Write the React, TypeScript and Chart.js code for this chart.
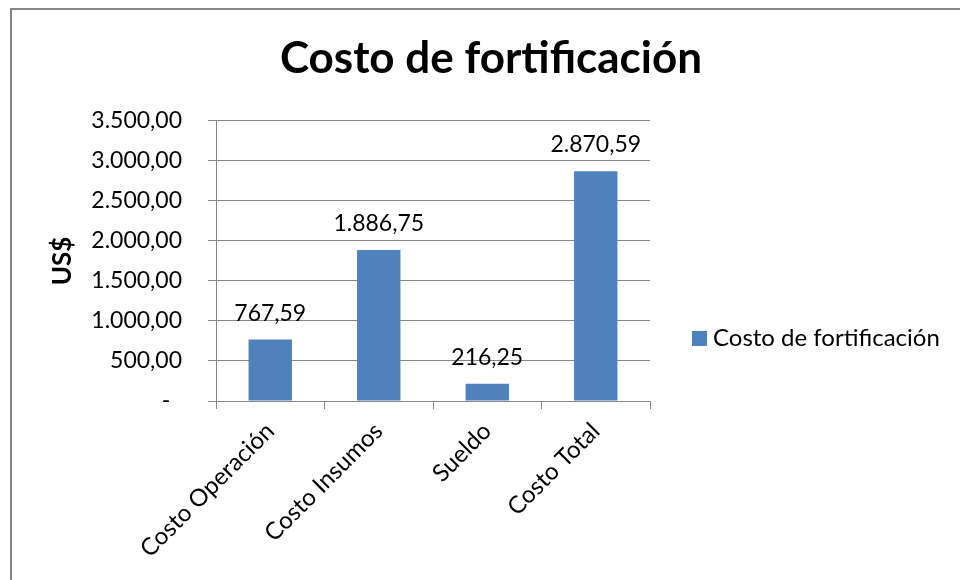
import React, { useEffect, useRef } from 'react';
import { Chart, registerables } from 'chart.js';

Chart.register(...registerables);

const categories = ['Costo Operación', 'Costo Insumos', 'Sueldo', 'Costo Total'];
const values = [767.59, 1886.75, 216.25, 2870.59];
const seriesName = 'Costo de fortificación';
const chartTitle = 'Costo de fortificación';
const yAxisTitle = 'US$';
const yMin = 0;
const yMax = 3500;
const yStep = 500;

const FONT = 'Lato';
const BAR = '#4F81BD';
const LINE = '#868686';

function fmt(v: number): string {
  const [i, d] = Math.abs(v).toFixed(2).split('.');
  const g = i.replace(/\B(?=(\d{3})+(?!\d))/g, '.');
  return (v < 0 ? '-' : '') + g + ',' + d;
}

const framePlugin = {
  id: 'frame',
  beforeDraw(chart: any) {
    const { ctx, width, height } = chart;
    ctx.save();
    ctx.fillStyle = '#ffffff';
    ctx.fillRect(0, 0, width, height);
    ctx.strokeStyle = LINE;
    ctx.lineWidth = 2;
    ctx.strokeRect(11, 9, width + 50, height + 100);
    ctx.restore();
  },
};

const dataLabelPlugin = {
  id: 'dataLabels',
  afterDatasetsDraw(chart: any) {
    const { ctx } = chart;
    ctx.save();
    ctx.font = `23px ${FONT}`;
    ctx.fillStyle = '#000000';
    ctx.textAlign = 'center';
    ctx.textBaseline = 'alphabetic';
    chart.data.datasets.forEach((ds: any, di: number) => {
      const meta = chart.getDatasetMeta(di);
      meta.data.forEach((el: any, i: number) => {
        ctx.fillText(fmt(ds.data[i]), el.x, el.y - 19);
      });
    });
    ctx.restore();
  },
};

const legendPlugin = {
  id: 'sideLegend',
  afterDraw(chart: any) {
    const { ctx, chartArea } = chart;
    ctx.save();
    ctx.font = `24px ${FONT}`;
    chart.data.datasets.forEach((ds: any, di: number) => {
      const x = chartArea.right + 42;
      const y = 338 + di * 30;
      ctx.fillStyle = ds.backgroundColor;
      ctx.fillRect(x, y - 7, 15, 15);
      ctx.fillStyle = '#000000';
      ctx.textAlign = 'left';
      ctx.textBaseline = 'middle';
      ctx.fillText(ds.label, x + 21, y);
    });
    ctx.restore();
  },
};

export default function App() {
  const ref = useRef<HTMLCanvasElement | null>(null);

  useEffect(() => {
    if (!ref.current) return;
    const chart = new Chart(ref.current, {
      type: 'bar',
      data: {
        labels: categories,
        datasets: [
          {
            label: seriesName,
            data: values,
            backgroundColor: BAR,
            borderWidth: 0,
            categoryPercentage: 1,
            barPercentage: 0.4,
          },
        ],
      },
      options: {
        responsive: false,
        animation: false,
        layout: { padding: { left: 22, right: 0, top: 0, bottom: 0 } },
        plugins: {
          legend: { display: false },
          tooltip: { enabled: false },
          title: {
            display: true,
            text: chartTitle,
            color: '#000000',
            font: { family: FONT, size: 44, weight: 'bold' },
            padding: { top: 32, bottom: 36 },
          },
        },
        scales: {
          x: {
            grid: {
              display: true,
              drawOnChartArea: false,
              drawTicks: true,
              tickLength: 8,
              color: LINE,
              offset: true,
            },
            border: { display: true, color: LINE, width: 1 },
            ticks: {
              color: '#000000',
              font: { family: FONT, size: 24 },
              maxRotation: 45,
              minRotation: 45,
              padding: 8,
            },
            afterFit: (s: any) => {
              s.height = 179;
            },
          },
          y: {
            min: yMin,
            max: yMax,
            grid: {
              display: true,
              drawTicks: true,
              tickLength: 8,
              color: LINE,
            },
            border: { display: true, color: LINE, width: 1 },
            ticks: {
              stepSize: yStep,
              color: '#000000',
              font: { family: FONT, size: 23 },
              padding: 26,
              callback: (v: any) => (Number(v) === 0 ? '-  ' : fmt(Number(v))),
            },
            title: {
              display: true,
              text: yAxisTitle,
              color: '#000000',
              font: { family: FONT, size: 26, weight: 'bold' },
              padding: { top: 25, bottom: 0 },
            },
            afterFit: (s: any) => {
              s.width = 194;
            },
          },
          spacer: {
            type: 'linear',
            position: 'right',
            display: true,
            grid: { display: false, drawTicks: false },
            border: { display: false },
            ticks: { display: false },
            afterFit: (s: any) => {
              s.width = 310;
            },
          },
        },
      },
      plugins: [framePlugin, dataLabelPlugin, legendPlugin],
    } as any);
    return () => chart.destroy();
  }, []);

  return (
    <div style={{ position: 'fixed', left: 0, top: 0, width: 960, height: 580 }}>
      <canvas ref={ref} width={960} height={580} style={{ display: 'block' }} />
    </div>
  );
}
